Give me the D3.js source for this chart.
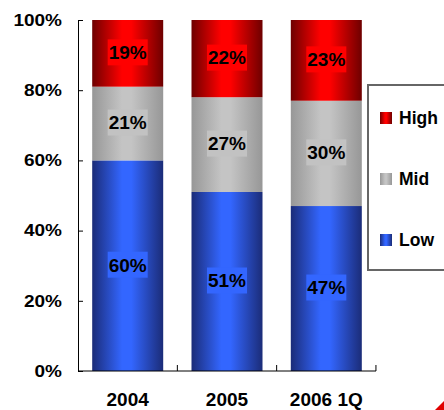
<!DOCTYPE html>
<html>
<head>
<meta charset="utf-8">
<script src="https://cdn.jsdelivr.net/npm/d3@7/dist/d3.min.js"></script>
<style>
  html, body { margin: 0; padding: 0; background: #fff; }
  svg { display: block; font-family: "Liberation Sans", Arial, sans-serif; font-weight: bold; }
</style>
</head>
<body>
<svg id="chart" width="444" height="410"></svg>
<script>
// Share of each tier per period (percent)
const categories = ["2004", "2005", "2006 1Q"];
const lowValues  = [60, 51, 47];
const midValues  = [21, 27, 30];
const highValues = [19, 22, 23];
const seriesNames = ["Low", "Mid", "High"];
const yTickValues = [0, 20, 40, 60, 80, 100];

const svg = d3.select("#chart");
const W = 444, H = 410;
const plot = { left: 78, right: 376, top: 20, bottom: 371 };

// Cylinder-like horizontal shading per tier
const shades = {
  High: { edge: "#6e0000", mid: "#ff0000", label: "#ff0000" },
  Mid:  { edge: "#979797", mid: "#c4c4c4", label: "#c2c2c2" },
  Low:  { edge: "#1b2c78", mid: "#3366ff", label: "#3366ff" }
};
const defs = svg.append("defs");
Object.entries(shades).forEach(([name, c]) => {
  const g = defs.append("linearGradient").attr("id", "grad-" + name)
    .attr("x1", "0%").attr("x2", "100%").attr("y1", "0%").attr("y2", "0%");
  g.append("stop").attr("offset", "0%").attr("stop-color", c.edge);
  g.append("stop").attr("offset", "42%").attr("stop-color", c.mid);
  g.append("stop").attr("offset", "55%").attr("stop-color", c.mid);
  g.append("stop").attr("offset", "100%").attr("stop-color", c.edge);
});

const rows = categories.map((cat, i) => ({
  cat, Low: lowValues[i], Mid: midValues[i], High: highValues[i]
}));
const stacked = d3.stack().keys(seriesNames)(rows);

const x = d3.scaleBand().domain(categories)
  .range([plot.left, plot.right]).paddingInner(0.285).paddingOuter(0.143);
const y = d3.scaleLinear().domain([0, 100]).range([plot.bottom, plot.top]);

// Bars
stacked.forEach(layer => {
  const key = layer.key;
  svg.append("g").selectAll("rect").data(layer).join("rect")
    .attr("x", d => x(d.data.cat))
    .attr("width", x.bandwidth())
    .attr("y", d => y(d[1]))
    .attr("height", d => y(d[0]) - y(d[1]))
    .attr("fill", `url(#grad-${key})`);
});

// Value labels with a solid backing box
stacked.forEach(layer => {
  const key = layer.key;
  layer.forEach(d => {
    const cx = x(d.data.cat) + x.bandwidth() / 2;
    const cy = (y(d[0]) + y(d[1])) / 2 - 1;
    const g = svg.append("g").attr("transform", `translate(${cx},${cy})`);
    const t = g.append("text")
      .attr("text-anchor", "middle").attr("dy", "0.36em")
      .attr("font-size", 19).attr("fill", "#000")
      .text((d[1] - d[0]) + "%");
    const bb = t.node().getBBox();
    g.insert("rect", "text")
      .attr("x", -20).attr("width", 40)
      .attr("y", -13).attr("height", 26)
      .attr("fill", shades[key].label);
  });
});

// Y axis with inward ticks
const yAxis = svg.append("g").attr("transform", `translate(${plot.left},0)`)
  .call(d3.axisLeft(y).tickValues(yTickValues).tickFormat(d => d + "%").tickSizeInner(-5).tickSizeOuter(0).tickPadding(16));
yAxis.select(".domain").attr("stroke", "#000");
yAxis.selectAll(".tick line").attr("stroke", "#000");
yAxis.selectAll(".tick text")
  .attr("font-size", 19).attr("font-family", "Liberation Sans, Arial, sans-serif").attr("font-weight", "bold")
  .attr("fill", "#000")
  .attr("transform", "scale(1,0.86)");

// X axis with upward ticks on category boundaries
const xAxisG = svg.append("g").attr("transform", `translate(0,${plot.bottom})`);
xAxisG.append("line").attr("x1", plot.left).attr("x2", plot.right).attr("stroke", "#000");
const step = x.step();
const bounds = categories.map((c, i) => x(c) - x.paddingInner() * step / 2 + step).slice(0, categories.length);
xAxisG.selectAll("line.b").data([...bounds]).join("line").attr("class", "b")
  .attr("x1", d => d).attr("x2", d => d).attr("y1", 0).attr("y2", -6).attr("stroke", "#000");
xAxisG.selectAll("text").data(categories).join("text")
  .attr("x", d => x(d) + x.bandwidth() / 2).attr("y", 35)
  .attr("text-anchor", "middle").attr("font-size", 19).attr("fill", "#000")
  .text(d => d);

// Legend
const legend = svg.append("g");
legend.append("rect").attr("x", 368).attr("y", 85).attr("width", 90).attr("height", 185)
  .attr("fill", "#fff").attr("stroke", "#666").attr("stroke-width", 2);
const legendKeys = ["High", "Mid", "Low"];
const legendY = d3.scalePoint().domain(legendKeys).range([118, 240]);
legendKeys.forEach(k => {
  legend.append("rect").attr("x", 380).attr("y", legendY(k) - 6).attr("width", 12).attr("height", 12)
    .attr("fill", `url(#grad-${k})`);
  legend.append("text").attr("x", 399).attr("y", legendY(k)).attr("dy", "0.36em")
    .attr("font-size", 17.5).attr("fill", "#000").text(k);
});

// Corner accent
svg.append("polygon").attr("points", `${W},${H - 9} ${W},${H} ${W - 9},${H}`).attr("fill", "#e00000");
</script>
</body>
</html>
